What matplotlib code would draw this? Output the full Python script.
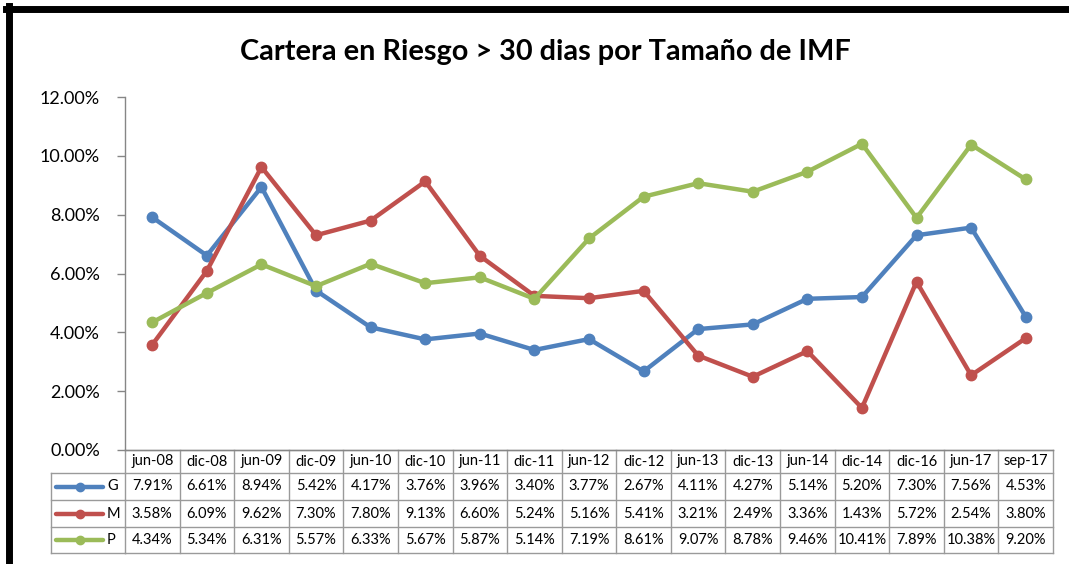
import matplotlib
matplotlib.use("Agg")
import matplotlib.pyplot as plt
from matplotlib.lines import Line2D
from matplotlib.ticker import FuncFormatter

periodos = ["jun-08", "dic-08", "jun-09", "dic-09", "jun-10", "dic-10", "jun-11", "dic-11",
            "jun-12", "dic-12", "jun-13", "dic-13", "jun-14", "dic-14", "dic-16", "jun-17", "sep-17"]
g_vals = [7.91, 6.61, 8.94, 5.42, 4.17, 3.76, 3.96, 3.40, 3.77, 2.67, 4.11, 4.27, 5.14, 5.20, 7.30, 7.56, 4.53]
m_vals = [3.58, 6.09, 9.62, 7.30, 7.80, 9.13, 6.60, 5.24, 5.16, 5.41, 3.21, 2.49, 3.36, 1.43, 5.72, 2.54, 3.80]
p_vals = [4.34, 5.34, 6.31, 5.57, 6.33, 5.67, 5.87, 5.14, 7.19, 8.61, 9.07, 8.78, 9.46, 10.41, 7.89, 10.38, 9.20]

series = [("G", g_vals, "#4F81BD"), ("M", m_vals, "#C0504D"), ("P", p_vals, "#9BBB59")]

plt.rcParams['font.family'] = ['Lato', 'DejaVu Sans']

W, H = 1069, 564
fig = plt.figure(figsize=(W / 100, H / 100), dpi=100)

# plot area in pixels (from the reference)
x0, x1, ytop, ybot = 125, 1053, 97, 450
ax = fig.add_axes([x0 / W, 1 - ybot / H, (x1 - x0) / W, (ybot - ytop) / H])

xs = list(range(len(periodos)))
for name, vals, col in series:
    ax.plot(xs, vals, color=col, lw=3.2, marker="o", ms=7.5, solid_joinstyle="round")

ax.set_xlim(-0.5, len(periodos) - 0.5)
ax.set_ylim(0, 12)
ax.set_yticks([0, 2, 4, 6, 8, 10, 12])
ax.yaxis.set_major_formatter(FuncFormatter(lambda v, p: f"{v:.2f}%"))
ax.tick_params(axis="y", labelsize=13, length=6, color="#868686", pad=12, width=1)
ax.tick_params(axis="x", bottom=False, labelbottom=False)
for s in ["top", "right"]:
    ax.spines[s].set_visible(False)
for s in ["left", "bottom"]:
    ax.spines[s].set_color("#868686")
    ax.spines[s].set_linewidth(1)

fig.text(545 / W, 1 - 52 / H, "Cartera en Riesgo > 30 dias por Tamaño de IMF",
         ha="center", va="center", fontsize=20.8, fontweight="bold")

# data table below the plot area
grid_col = "#9a9a9a"
ph = ybot - ytop
row_px = [450, 473, 500, 527, 553]
rows = [-(r - ybot) / ph for r in row_px]
tr = ax.get_xaxis_transform()
n = len(periodos)
kw = dict(color=grid_col, lw=1, transform=tr, clip_on=False)

# horizontal lines over the data columns
for r in rows:
    ax.add_line(Line2D([-0.5, n - 0.5], [r, r], **kw))
# vertical lines between columns
for k in range(n + 1):
    ax.add_line(Line2D([k - 0.5, k - 0.5], [rows[0], rows[-1]], **kw))
# legend column
unit = (n) / (x1 - x0)
leg_left = -0.5 - (x0 - 51) * unit
for r in rows[1:]:
    ax.add_line(Line2D([leg_left, -0.5], [r, r], **kw))
ax.add_line(Line2D([leg_left, leg_left], [rows[1], rows[-1]], **kw))

for k, lab in enumerate(periodos):
    ax.text(k, (rows[0] + rows[1]) / 2, lab, transform=tr, ha="center", va="center", fontsize=10.5)

for i, (name, vals, col) in enumerate(series):
    yc = (rows[i + 1] + rows[i + 2]) / 2
    for k, v in enumerate(vals):
        ax.text(k, yc, f"{v:.2f}%", transform=tr, ha="center", va="center", fontsize=10.5)
    lx0 = -0.5 - (x0 - 56) * unit
    lx1 = -0.5 - (x0 - 103) * unit
    ax.add_line(Line2D([lx0, lx1], [yc, yc], color=col, lw=3.2, transform=tr, clip_on=False,
                       solid_capstyle="round"))
    ax.add_line(Line2D([(lx0 + lx1) / 2], [yc], color=col, marker="o", ms=6, transform=tr,
                       clip_on=False))
    ax.text(-0.5 - (x0 - 107) * unit, yc, name, transform=tr, ha="left", va="center", fontsize=10.5)

# chart frame (thick black on the left and top)
fig.add_artist(Line2D([9 / W, 9 / W], [0, 1 - 6 / H], color="black", lw=5, transform=fig.transFigure))
fig.add_artist(Line2D([6 / W, 1], [1 - 9 / H, 1 - 9 / H], color="black", lw=5, transform=fig.transFigure))

fig.savefig("out.png", dpi=100)
